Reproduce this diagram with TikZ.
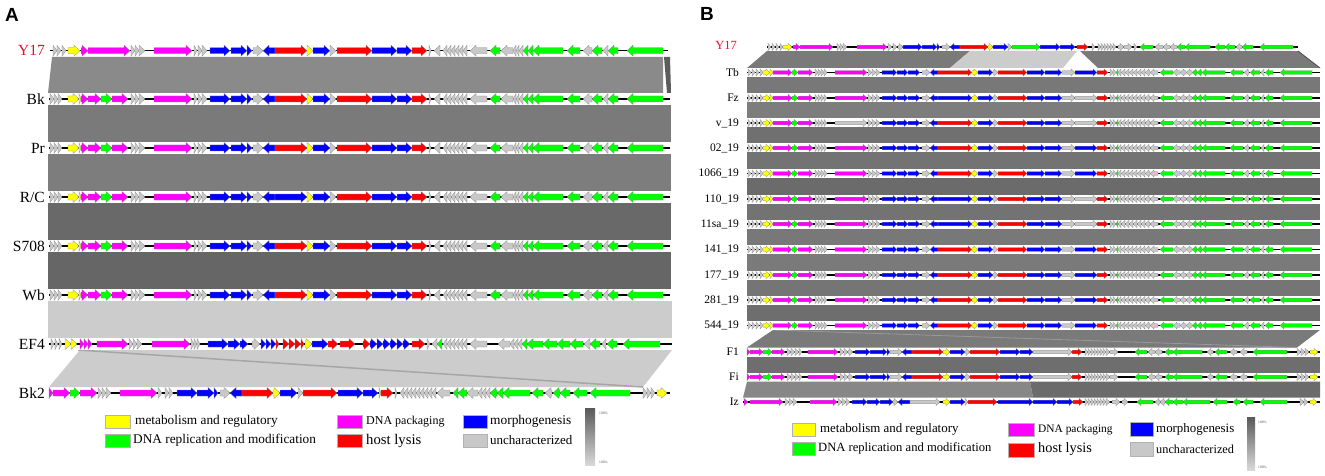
\documentclass[tikz,border=0pt]{standalone}
\usepackage{fontspec}
\setmainfont{Liberation Serif}
\newfontfamily\sansf{Liberation Sans}
\definecolor{gcy}{HTML}{FFFF00}
\definecolor{gcm}{HTML}{FF00FF}
\definecolor{gcg}{HTML}{00FF00}
\definecolor{gcb}{HTML}{0000FF}
\definecolor{gcr}{HTML}{FF0000}
\definecolor{gcn}{HTML}{C8C8C8}
\definecolor{lblred}{HTML}{E8112D}
\tikzset{
  genestyle/.style={draw=black!45, line width=0.25pt},
  trackline/.style={line width=\LW, black},
  lbl/.style={font=\fontsize{15.5}{16}\selectfont, anchor=east, inner sep=0pt},
  lblb/.style={font=\fontsize{11.5}{12}\selectfont, anchor=east, inner sep=0pt},
  legtxt/.style={anchor=west, inner sep=0pt},
  legbox/.style={draw=black!30, line width=0.4pt},
  paneltitle/.style={font=\sansf\bfseries\fontsize{19}{21}\selectfont, inner sep=0pt},
  pct/.style={font=\fontsize{3.6}{4}\selectfont, anchor=west, inner sep=0pt, text=black!70}
}
\newcommand{\gene}[5]{%
  \pgfmathsetmacro{\gl}{#3-#2}%
  \pgfmathsetmacro{\gh}{min(\HL,\gl)}%
  \ifnum#5>0
    \path[genestyle, fill=gc#4] (#2,#1-\BH) -- ({#3-\gh},#1-\BH) -- ({#3-\gh},#1-\HH) -- (#3,#1) -- ({#3-\gh},#1+\HH) -- ({#3-\gh},#1+\BH) -- (#2,#1+\BH) -- cycle;
  \else
    \path[genestyle, fill=gc#4] (#3,#1-\BH) -- ({#2+\gh},#1-\BH) -- ({#2+\gh},#1-\HH) -- (#2,#1) -- ({#2+\gh},#1+\HH) -- ({#2+\gh},#1+\BH) -- (#3,#1+\BH) -- cycle;
  \fi}
\newcommand{\track}[4]{%
  \fill[white] (#2,#1-\SH) rectangle (#3,#1+\SH);
  \draw[trackline] (#2,#1) -- (#3,#1);
  \foreach \a/\b/\c/\d in #4 {\edef\tmp{\noexpand\gene{#1}{\a}{\b}{\c}{\d}}\tmp}}
% ---------- panel A gene lists
\def\AYleft{53/57/n/1,57/61/n/1,62/66/n/1,68/80/y/1,81/88/m/1,88/130/m/1}
\def\ABleft{50/54/n/1,54/58/n/1,58/62/n/1,68/79/y/1,79/81/y/1,81/88/m/1,88/101/m/1,101/112/g/1,112/128/m/1}
\def\Amid{131/135/n/1,135/139/n/1,139/145/n/1,154/192/m/1,194/197/n/1,198/202/n/1,202/207/n/1,210/230/b/1,231/247/b/1,247/252/b/1,253/263/n/1,263/275/b/-1}
\def\Aright{307/313/y/1,313/330/b/1,330/336/n/1,337/372/r/1,372/397/b/1,397/412/b/1,412/427/r/1}
\def\Atail{429/431/n/1,434/440/n/-1,443/447/n/-1,447/451/n/-1,451/455/n/-1,455/459/n/-1,459/463/n/-1,463/467/n/-1,470/487/n/-1,490/500/g/-1,501/513/n/-1,513/516/n/-1,516/519/n/-1,519/523/n/-1,523/528/g/-1,528/533/g/-1,533/563/g/-1,567/580/g/-1,583/592/n/-1,592/602/g/-1,603/608/n/-1,608/618/g/-1,627/663/g/-1}
\edef\AYlist{\AYleft,\Amid,275/307/r/1,\Aright,\Atail}
\edef\ABlist{\ABleft,\Amid,275/307/r/1,\Aright,\Atail}
\edef\ARClist{\ABleft,\Amid,275/307/b/1,\Aright,\Atail}
\def\AEFlist{51/54/n/1,55/58/n/1,59/62/n/1,65/71/y/1,71/77/y/1,80/84/m/1,84/88/m/1,88/92/m/1,97/128/m/1,129/133/n/1,133/137/n/1,137/142/n/1,152/190/m/1,191/194/n/1,194/197/n/1,197/200/n/1,208/228/b/1,228/240/b/1,240/248/b/1,252/260/n/1,261/266/b/1,266/271/b/1,271/276/b/1,276/279/r/1,283/289/r/1,289/295/r/1,295/301/r/1,301/304/r/1,305/312/y/1,312/328/b/1,328/338/r/1,340/355/r/1,363/370/r/1,370/377/b/1,377/383/b/1,383/390/b/1,390/397/b/1,397/403/b/1,403/410/b/1,412/425/r/1,427/430/n/1,432/437/n/-1,437/442/g/-1,443/447/n/-1,447/451/n/-1,451/455/n/-1,455/459/n/-1,459/463/n/-1,463/467/n/-1,470/487/n/-1,498/510/n/-1,510/514/n/-1,514/518/n/-1,518/522/n/-1,522/527/g/-1,527/543/g/-1,543/557/g/-1,557/570/g/-1,570/583/g/-1,584/590/n/-1,590/600/g/-1,602/606/n/-1,607/617/g/-1,623/660/g/-1}
\def\ABktwolist{49/53/m/1,53/70/m/1,70/80/g/1,80/97/m/1,98/102/n/1,102/106/n/1,106/111/n/1,120/157/m/1,158/162/n/1,165/169/n/1,169/173/n/1,177/197/b/1,197/214/b/1,214/218/b/1,220/230/n/1,230/242/b/-1,242/273/r/1,273/280/y/1,280/297/b/1,298/303/n/1,303/337/r/1,338/363/b/1,363/378/b/1,379/381/n/1,381/393/r/1,395/397/n/1,400/404/n/-1,404/408/n/-1,408/412/n/-1,412/416/n/-1,416/420/n/-1,420/424/n/-1,424/428/n/-1,428/432/n/-1,432/436/n/-1,437/450/n/-1,453/458/g/-1,458/467/g/-1,467/478/n/-1,478/482/n/-1,482/486/n/-1,486/490/n/-1,490/497/g/-1,497/503/g/-1,503/530/g/-1,532/543/g/-1,545/552/n/-1,553/560/g/-1,560/570/g/-1,573/587/g/-1,590/630/g/-1,643/647/n/1,647/651/n/1,651/655/n/1,657/667/y/1}
% ---------- panel B gene lists
\def\BLa{748/751/n/1,752/755/n/1,756/759/n/1,760/763/n/1,763/770/y/1,770/773/y/1,773/792/m/1,792/798/g/1,798/813/m/1,815/818/n/1,818/821/n/1,821/824/n/1,824/827/n/1}
\def\BLb{868/872/n/1,872/876/n/1,876/880/n/1,882/897/b/1,897/908/b/1,908/920/b/1,922/930/n/1,930/938/b/-1}
\def\BLc{972/978/y/1,978/993/b/1,993/998/n/1,998/1027/r/1,1027/1045/b/1,1045/1062/b/1,1062/1075/n/1}
\def\BR{1097/1108/r/1,1110/1113/n/1,1113/1116/n/1,1116/1118/g/-1,1118/1121/n/-1,1121/1125/n/-1,1125/1129/n/-1,1129/1133/n/-1,1133/1137/n/-1,1137/1141/n/-1,1141/1145/n/-1,1145/1150/n/-1,1150/1158/n/-1,1160/1173/g/-1,1173/1180/n/-1,1180/1186/n/-1,1186/1192/n/-1,1192/1197/g/-1,1197/1202/g/-1,1202/1225/g/-1,1230/1243/g/-1,1244/1249/n/-1,1250/1260/g/-1,1261/1264/n/-1,1265/1273/g/-1,1280/1312/g/-1}
\edef\BmRB{\BLa,835/867/m/1,\BLb,938/972/r/1,\BLc,1075/1097/b/1,\BR}
\edef\BmBN{\BLa,835/867/m/1,\BLb,938/972/b/1,\BLc,1075/1097/n/1,\BR}
\edef\BnRN{\BLa,835/867/n/1,\BLb,938/972/r/1,\BLc,1075/1097/n/1,\BR}
\def\BYlist{768/771/n/1,772/775/n/1,776/779/n/1,780/783/n/1,783/792/y/1,793/800/m/1,800/833/m/1,837/840/n/1,840/843/n/1,843/847/n/1,857/887/m/1,888/892/n/1,893/897/n/1,898/903/n/1,903/922/b/1,922/937/b/1,937/940/b/1,942/950/n/1,950/960/b/-1,960/988/r/1,988/993/y/1,993/1008/b/1,1008/1012/n/1,1012/1040/g/1,1040/1060/b/1,1060/1075/b/1,1077/1088/r/1,1092/1095/n/1,1098/1101/n/1,1101/1104/n/1,1104/1107/n/1,1107/1110/n/1,1110/1113/n/1,1113/1116/n/1,1118/1124/n/1,1124/1132/n/1,1134/1137/n/1,1140/1153/g/-1,1155/1163/n/-1,1163/1170/n/-1,1170/1177/n/-1,1177/1185/g/-1,1185/1210/g/-1,1215/1225/g/-1,1225/1235/g/-1,1236/1242/n/-1,1242/1253/g/-1,1260/1293/g/-1}
\def\BFlist{747/750/m/1,750/763/m/1,763/772/g/1,772/785/m/1,787/791/n/1,791/795/n/1,795/799/n/1,799/802/n/1,808/838/m/1,840/844/n/1,844/848/n/1,848/853/n/1,855/870/b/1,870/887/b/1,887/890/b/1,890/902/n/1,902/912/b/-1,912/943/r/1,943/950/y/1,950/965/b/1,965/970/n/1,970/1000/r/1,1000/1020/b/1,1020/1033/b/1,1033/1072/n/1,1072/1082/r/1,1085/1088/n/1,1088/1091/n/1,1091/1094/n/1,1094/1097/n/1,1097/1100/n/1,1100/1103/n/1,1103/1106/n/1,1106/1110/n/1,1110/1118/n/1,1135/1147/g/-1,1148/1155/n/-1,1155/1162/n/-1,1165/1173/g/-1,1173/1202/g/-1,1207/1213/n/-1,1215/1227/g/-1,1230/1237/n/-1,1240/1247/n/-1,1253/1287/g/-1,1297/1301/n/1,1301/1305/n/1,1305/1309/n/1,1310/1318/y/1}
\def\BIzlist{744/748/m/1,750/783/m/1,785/789/n/1,789/793/n/1,793/797/n/1,810/837/m/1,838/842/n/1,842/846/n/1,846/850/n/1,852/867/b/1,867/880/b/1,880/893/b/1,893/898/n/1,898/910/b/-1,910/940/n/1,943/950/y/1,950/965/b/1,965/968/n/1,968/997/r/1,998/1033/b/1,1033/1057/b/1,1057/1073/b/1,1073/1083/r/1,1085/1088/n/1,1088/1091/n/1,1091/1094/n/1,1094/1097/n/1,1097/1100/n/1,1100/1103/n/1,1103/1106/n/1,1106/1110/n/1,1112/1120/n/1,1122/1128/n/1,1137/1153/g/-1,1155/1160/n/-1,1160/1165/n/-1,1165/1173/g/-1,1173/1183/g/-1,1183/1210/g/-1,1213/1227/g/-1,1233/1240/g/-1,1243/1253/g/-1,1260/1287/g/-1,1300/1304/n/1,1304/1308/n/1,1310/1317/y/1}
\begin{document}
\begin{tikzpicture}[x=1pt,y=-1pt]
\useasboundingbox (0,0) rectangle (1325,476);
\fill[white] (0,0) rectangle (1325,476);
% ================= PANEL A =================
\node[paneltitle] (titA) at (12,15) {A};
% bands
\fill[black!46] (52,57) -- (663,57) -- (663,93) -- (48,93) -- cycle;
\fill[black!64] (664,57) -- (670,57) -- (671,93) -- (667,93) -- cycle;
\fill[black!52] (48,105) rectangle (671,142);
\fill[black!51] (48,154) rectangle (671,191);
\fill[black!59] (48,203) rectangle (671,240);
\fill[black!60] (48,252) rectangle (671,289);
\fill[black!20] (48,301) rectangle (672,338);
\fill[black!20] (80,350) -- (672,350) -- (643,387) -- (49,387) -- cycle;
\draw[black!35, line width=1.5pt] (78,350) -- (643,387);
% tracks
\def\BH{3}\def\HH{5.5}\def\HL{6}\def\SH{5.5}\def\LW{1.6pt}
\track{50.7}{50}{668}{\AYlist}
\track{99}{49}{670}{\ABlist}
\track{148}{49}{670}{\ABlist}
\track{197}{49}{670}{\ARClist}
\track{246}{49}{670}{\ABlist}
\track{295}{49}{670}{\ABlist}
\track{344}{49}{672}{\AEFlist}
\track{393}{49}{670}{\ABktwolist}
% labels
\node[lbl, text=lblred] (aY17) at (45,50.7) {Y17};
\node[lbl] (aBk) at (45,99) {Bk};
\node[lbl] (aPr) at (45,148) {Pr};
\node[lbl] (aRC) at (45,197) {R/C};
\node[lbl] (aS708) at (45,246) {S708};
\node[lbl] (aWb) at (45,295) {Wb};
\node[lbl] (aEF4) at (45,344) {EF4};
\node[lbl] (aBk2) at (45,393) {Bk2};
% legend A
\fill[fill=gcy, legbox] (105,415) rectangle (130,428);
\fill[fill=gcg, legbox] (105,434) rectangle (130,447);
\fill[fill=gcm, legbox] (337,415) rectangle (362,428);
\fill[fill=gcr, legbox] (337,434) rectangle (362,447);
\fill[fill=gcb, legbox] (463,415) rectangle (487,428);
\fill[fill=gcn, legbox] (463,434) rectangle (487,447);
\node[legtxt, font=\fontsize{13.3}{14}\selectfont] (lAy) at (135,421.5) {metabolism and regulatory};
\node[legtxt, font=\fontsize{13.3}{14}\selectfont] (lAg) at (133,440.5) {DNA replication and modification};
\node[legtxt, font=\fontsize{12}{13}\selectfont] (lAm) at (366,421.5) {DNA packaging};
\node[legtxt, font=\fontsize{14.7}{15}\selectfont] (lAr) at (366,440.5) {host lysis};
\node[legtxt, font=\fontsize{13.4}{14}\selectfont] (lAb) at (490,421) {morphogenesis};
\node[legtxt, font=\fontsize{13}{14}\selectfont] (lAn) at (490,440.5) {uncharacterized};
\shade[top color=black!65, bottom color=black!15] (585,408) rectangle (595,465);
\node[pct] (pA1) at (599,413) {100\%};
\node[pct] (pA2) at (599,462) {100\%};
% ================= PANEL B =================
\node[paneltitle] (titB) at (707,14) {B};
% bands
\fill[black!52] (767,51) -- (970,51) -- (950,68) -- (747,68) -- cycle;
\fill[black!20] (970,51) -- (1077,51) -- (1063,68) -- (950,68) -- cycle;
\fill[black!52] (1080,51) -- (1298,51) -- (1320,68) -- (1098,68) -- cycle;
\draw[black!70, line width=0.8pt] (1298,51) -- (1320,68);
\foreach \ya/\yb/\col in {72.5/98/53,98/123/51,123/148/56,148/173.5/55,173.5/199/58,199/224/55,224/249.5/53,249.5/275/52,275/300/54,300/325.5/57,352/377/57}{
  \fill[black!\col] (747,\ya+4.5) rectangle (1320,\yb-4.5);
}
\fill[black!52] (773,330) -- (1320,330) -- (1297,347.5) -- (747,347.5) -- cycle;
\draw[black!40, line width=0.8pt] (773,330) -- (1297,347.5);
\fill[black!47] (747,381.5) -- (1030,381.5) -- (1033,397.5) -- (743,397.5) -- cycle;
\fill[black!58] (1030,381.5) -- (1320,381.5) -- (1320,397.5) -- (1033,397.5) -- cycle;
% tracks
\def\BH{1.8}\def\HH{3.6}\def\HL{4}\def\SH{4}\def\LW{1.2pt}
\track{47}{767}{1298}{\BYlist}
\track{72.5}{747}{1320}{\BmRB}
\track{98}{747}{1320}{\BmBN}
\track{123}{747}{1320}{\BnRN}
\track{148}{747}{1320}{\BmRB}
\track{173.5}{747}{1320}{\BmRB}
\track{199}{747}{1320}{\BmBN}
\track{224}{747}{1320}{\BmBN}
\track{249.5}{747}{1320}{\BmRB}
\track{275}{747}{1320}{\BmRB}
\track{300}{747}{1320}{\BmRB}
\track{325.5}{747}{1320}{\BmRB}
\track{352}{747}{1320}{\BFlist}
\track{377}{747}{1320}{\BFlist}
\track{402}{743}{1320}{\BIzlist}
% labels
\node[lblb, text=lblred, font=\fontsize{12.5}{13}\selectfont] (bY17) at (737,45) {Y17};
\node[lblb] (bTb) at (739,72.5) {Tb};
\node[lblb] (bFz) at (739,98) {Fz};
\node[lblb] (bv) at (739,123) {v\_19};
\node[lblb] (b02) at (739,148) {02\_19};
\node[lblb] (b1066) at (739,173.5) {1066\_19};
\node[lblb] (b110) at (739,199) {110\_19};
\node[lblb] (b11sa) at (739,224) {11sa\_19};
\node[lblb] (b141) at (739,249.5) {141\_19};
\node[lblb] (b177) at (739,275) {177\_19};
\node[lblb] (b281) at (739,300) {281\_19};
\node[lblb] (b544) at (739,325.5) {544\_19};
\node[lblb] (bF1) at (739,352) {F1};
\node[lblb] (bFi) at (739,377) {Fi};
\node[lblb] (bIz) at (739,402) {Iz};
% legend B
\fill[fill=gcy, legbox] (792,423) rectangle (815,436);
\fill[fill=gcg, legbox] (792,442) rectangle (815,455);
\fill[fill=gcm, legbox] (1008,423) rectangle (1034,436);
\fill[fill=gcr, legbox] (1008,443) rectangle (1034,457);
\fill[fill=gcb, legbox] (1130,422) rectangle (1153,436);
\fill[fill=gcn, legbox] (1130,442) rectangle (1153,456);
\node[legtxt, font=\fontsize{12.9}{14}\selectfont] (lBy) at (820,429.5) {metabolism and regulatory};
\node[legtxt, font=\fontsize{12.6}{14}\selectfont] (lBg) at (818,448.5) {DNA replication and modification};
\node[legtxt, font=\fontsize{11.4}{12}\selectfont] (lBm) at (1038,429.5) {DNA packaging};
\node[legtxt, font=\fontsize{14.3}{15}\selectfont] (lBr) at (1038,449.5) {host lysis};
\node[legtxt, font=\fontsize{12.9}{14}\selectfont] (lBb) at (1156,429) {morphogenesis};
\node[legtxt, font=\fontsize{12.3}{13}\selectfont] (lBn) at (1156,449) {uncharacterized};
\shade[top color=black!65, bottom color=black!15] (1247,417) rectangle (1255,470);
\node[pct] (pB1) at (1258,422) {100\%};
\node[pct] (pB2) at (1258,467) {100\%};
\end{tikzpicture}
\end{document}
